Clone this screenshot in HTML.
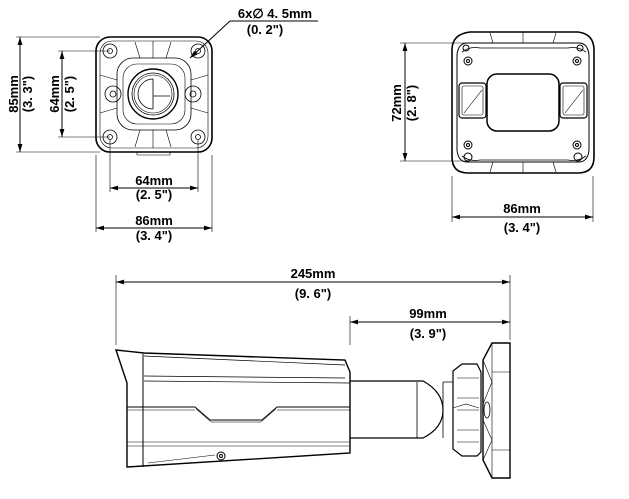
<!DOCTYPE html>
<html><head><meta charset="utf-8"><style>
html,body{margin:0;padding:0;background:#fff}
svg{display:block}
text{font-family:"Liberation Sans",sans-serif;font-weight:bold;fill:#000;font-size:13px}
</style></head><body>
<svg width="629" height="499" viewBox="0 0 629 499" xmlns="http://www.w3.org/2000/svg">
<defs>
<marker id="a" viewBox="0 0 10 6" refX="10" refY="3" markerWidth="8" markerHeight="5" orient="auto-start-reverse"><path d="M0,0 L10,3 L0,6 z" fill="#000"/></marker>
</defs>
<g stroke="#000" fill="none" stroke-width="1">
<!-- FRONT VIEW -->
<rect x="96" y="37" width="116" height="115" rx="14" stroke-width="1.6"/>
<rect x="100" y="41" width="108" height="107" rx="12" stroke-width="0.6"/>
<rect x="117" y="58" width="74" height="72" rx="16" stroke-width="0.8"/>
<rect x="123" y="64" width="62" height="60" rx="14" stroke-width="0.6"/>
<path d="M153,41 V58 M153,130 V148 M135,42 L140,58 M171,42 L166,58 M135,147 L140,130 M171,147 L166,130 M100,75 L117,80 M100,113 L117,108 M208,75 L191,80 M208,113 L191,108" stroke-width="0.6"/>
<circle cx="153" cy="94" r="25" stroke-width="1.4"/>
<circle cx="153" cy="94" r="21" stroke-width="0.8"/>
<circle cx="153" cy="94" r="19" stroke-width="0.6"/>
<path d="M153,79 A15,15 0 0 0 153,109 M153,79 V109 M153,96 H170" stroke-width="0.8"/>
<g stroke-width="0.8">
<circle cx="110" cy="51" r="7"/><circle cx="110" cy="51" r="2.5"/>
<circle cx="198" cy="51" r="7"/><circle cx="198" cy="51" r="2.5"/>
<circle cx="113" cy="94" r="8"/><circle cx="113" cy="94" r="3"/>
<circle cx="193" cy="94" r="8"/><circle cx="193" cy="94" r="3"/>
<circle cx="110" cy="137" r="7"/><circle cx="110" cy="137" r="2.5"/>
<circle cx="198" cy="137" r="7"/><circle cx="198" cy="137" r="2.5"/>
</g>
<path d="M137,152 V155 H170 V152" stroke-width="0.6"/>
<!-- front dims -->
<path d="M16,37 H100 M16,152 H100" stroke-width="0.6"/>
<path d="M20,37 V152" marker-start="url(#a)" marker-end="url(#a)"/>
<path d="M58,51 H110 M58,137 H110" stroke-width="0.6"/>
<path d="M62,51 V137" marker-start="url(#a)" marker-end="url(#a)"/>
<path d="M110,140 V192 M198,140 V192" stroke-width="0.6"/>
<path d="M110,188 H198" marker-start="url(#a)" marker-end="url(#a)"/>
<path d="M96,155 V232 M212,155 V232" stroke-width="0.6"/>
<path d="M96,228 H212" marker-start="url(#a)" marker-end="url(#a)"/>
<path d="M230,21 H318"/>
<path d="M230,21 L190,58" marker-end="url(#a)"/>

<!-- REAR VIEW -->
<path d="M470,32 H578 Q594,34 594,50 V157 Q594,173 578,173 H468 Q452,173 452,157 V50 Q452,34 470,32 z" stroke-width="1.6"/>
<path d="M466,43 H580 Q588,44 589,55 V150 Q588,161 580,162 H466 Q458,161 457,150 V55 Q458,44 466,43 z" stroke-width="1"/>
<path d="M462,52 Q470,46 480,48 H568 Q578,46 586,52 M462,156 Q470,162 480,160 H568 Q578,162 586,156" stroke-width="0.8"/>
<path d="M523,32 V43 M523,162 V173 M490,33 L493,43 M556,33 L553,43 M490,172 L493,162 M556,172 L553,162" stroke-width="0.6"/>
<rect x="487" y="74" width="72" height="57" rx="10" stroke-width="1.5"/>
<rect x="459" y="83" width="27" height="35" rx="3" stroke-width="1.2"/>
<rect x="462" y="86" width="21" height="29" rx="2" stroke-width="0.6"/>
<path d="M464,113 L482,90" stroke-width="0.6"/>
<rect x="560" y="83" width="27" height="35" rx="3" stroke-width="1.2"/>
<rect x="563" y="86" width="21" height="29" rx="2" stroke-width="0.6"/>
<path d="M565,113 L583,90" stroke-width="0.6"/>
<g stroke-width="1">
<circle cx="468" cy="61" r="4"/><circle cx="468" cy="61" r="1.5"/>
<circle cx="577" cy="61" r="4"/><circle cx="577" cy="61" r="1.5"/>
<circle cx="468" cy="145" r="4"/><circle cx="468" cy="145" r="1.5"/>
<circle cx="577" cy="145" r="4"/><circle cx="577" cy="145" r="1.5"/>
<circle cx="468" cy="157" r="4"/><circle cx="578" cy="157" r="4"/>
<circle cx="466" cy="48" r="3"/><circle cx="580" cy="48" r="3"/>
</g>
<path d="M400,43 H470 M400,161 H470" stroke-width="0.6"/>
<path d="M405,43 V161" marker-start="url(#a)" marker-end="url(#a)"/>
<path d="M452,176 V222 M593,176 V222" stroke-width="0.6"/>
<path d="M452,217 H593" marker-start="url(#a)" marker-end="url(#a)"/>

<!-- SIDE VIEW -->
<path d="M116,275 V345 M510,275 V340 M350,316 V345" stroke-width="0.6"/>
<path d="M116,282 H510" marker-start="url(#a)" marker-end="url(#a)"/>
<path d="M350,322 H510" marker-start="url(#a)" marker-end="url(#a)"/>
<path d="M116,350 L144,353 L345,360 L350,372 V453 L127,467 V383 Z" stroke-width="1.4"/>
<path d="M143,354 V467" stroke-width="1"/>
<path d="M144,356 L345,365 M144,376 L345,378 M144,381 L350,383" stroke-width="0.7"/>
<path d="M127,407 H195 L210,420 H262 L277,407 H350" stroke-width="1"/>
<path d="M127,410 H195 M277,410 H350 M196,409 L211,422 H261 L276,409" stroke-width="0.5"/>
<path d="M127,442 H350 M127,446 H350" stroke-width="0.5"/>
<path d="M148,463 L215,455" stroke-width="0.6"/>
<circle cx="221" cy="456" r="4" stroke-width="1"/><circle cx="221" cy="456" r="1.5"/>
<path d="M350,381 H423 Q443,392 443,410 Q443,428 423,438 H350" stroke-width="1.2"/>
<path d="M417,382 V438 M443,382 V438 M443,382 H453" stroke-width="0.8"/>
<path d="M453,371 L462,364 H477 L481,372 V452 L477,456 H462 L453,449 Z" stroke-width="1.2"/>
<path d="M457,378 H479 M457,398 H479 M457,410 H479 M457,430 H479 M457,442 H479 M453,408 L466,404 L479,408" stroke-width="0.6"/>
<path d="M492,343 H510 V478 H492 L483,460 V360 Z" stroke-width="1.4"/>
<path d="M492,343 V478 M492,372 H510 M492,450 H510" stroke-width="0.6"/>
<path d="M483,360 L492,382 L483,404 M483,420 L492,440 L483,460" stroke-width="0.6"/>
<ellipse cx="487" cy="410" rx="3" ry="8" stroke-width="0.8"/>
</g>
<g>
<text transform="translate(18,94) rotate(-90)" text-anchor="middle">85mm</text>
<text transform="translate(32,94) rotate(-90)" text-anchor="middle">(3. 3")</text>
<text transform="translate(59,94) rotate(-90)" text-anchor="middle">64mm</text>
<text transform="translate(74,94) rotate(-90)" text-anchor="middle">(2. 5")</text>
<text x="154" y="185" text-anchor="middle">64mm</text>
<text x="154" y="199" text-anchor="middle">(2. 5")</text>
<text x="154" y="225" text-anchor="middle">86mm</text>
<text x="154" y="240" text-anchor="middle">(3. 4")</text>
<text x="275" y="18" text-anchor="middle">6x∅ 4. 5mm</text>
<text x="265" y="34" text-anchor="middle">(0. 2")</text>
<text transform="translate(401,103) rotate(-90)" text-anchor="middle">72mm</text>
<text transform="translate(416,103) rotate(-90)" text-anchor="middle">(2. 8")</text>
<text x="522" y="213" text-anchor="middle" font-size="14">86mm</text>
<text x="522" y="232" text-anchor="middle" font-size="14">(3. 4")</text>
<text x="313" y="278" text-anchor="middle" font-size="14">245mm</text>
<text x="313" y="298" text-anchor="middle" font-size="14">(9. 6")</text>
<text x="428" y="318" text-anchor="middle" font-size="14">99mm</text>
<text x="428" y="338" text-anchor="middle" font-size="14">(3. 9")</text>
</g>
</svg>
</body></html>
